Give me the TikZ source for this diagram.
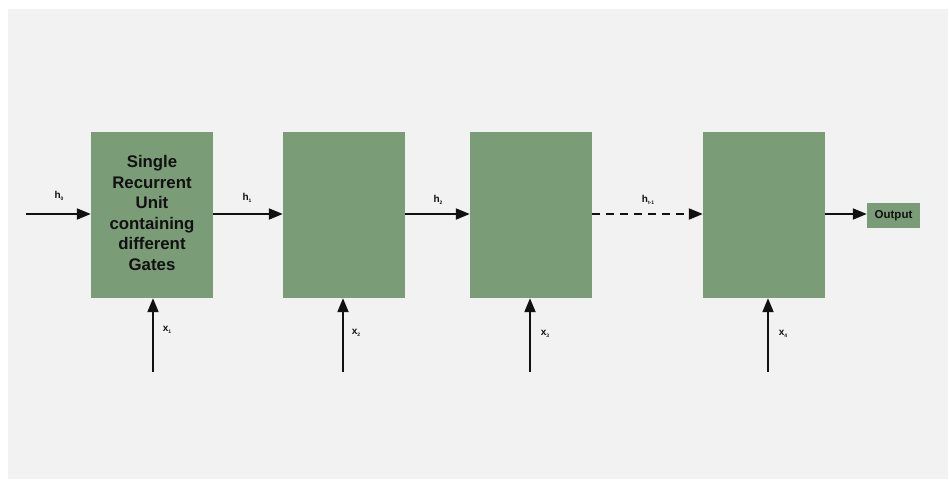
\documentclass[tikz,border=0pt]{standalone}
\usepackage{fontspec}
\setmainfont{Liberation Sans}
\usetikzlibrary{arrows.meta}
\definecolor{cellgreen}{HTML}{7A9C76}
\definecolor{panel}{HTML}{F2F2F2}
\definecolor{ink}{HTML}{111111}
\begin{document}
\begin{tikzpicture}[x=1pt,y=-1pt,
  cell/.style={fill=cellgreen,draw=none,minimum width=122pt,minimum height=166pt,inner sep=0pt},
  flow/.style={draw=ink,line width=2pt,-{Triangle[length=14pt,width=11pt]}},
  lbl/.style={font=\bfseries\fontsize{10}{12}\selectfont,text=ink,inner sep=0pt}]
  % page and grey panel
  \useasboundingbox (0,0) rectangle (949,479);
  \fill[white] (0,0) rectangle (949,479);
  \fill[panel] (8,9) rectangle (948,479);

  % recurrent cells
  \node[cell] (c1) at (152,215) {};
  \node[cell] (c2) at (344,215) {};
  \node[cell] (c3) at (531,215) {};
  \node[cell] (c4) at (764,215) {};
  \node[align=center,text=ink,font=\bfseries\fontsize{16.8}{20.6}\selectfont] (t1) at (152,213)
    {Single\\Recurrent\\Unit\\containing\\different\\Gates};

  % output box
  \node[fill=cellgreen,minimum width=53pt,minimum height=25pt,inner sep=0pt,
        font=\bfseries\fontsize{11.5}{13}\selectfont,text=ink] (out) at (893.5,215.5) {Output};

  % free ends of the connectors
  \coordinate (h0in) at (26,214);
  \coordinate (x1in) at (153,372);
  \coordinate (x2in) at (343,372);
  \coordinate (x3in) at (530,372);
  \coordinate (x4in) at (768,372);

  % hidden-state connectors
  \draw[flow] (h0in) -- (c1.west |- h0in);
  \draw[flow] (c1.east |- h0in) -- (c2.west |- h0in);
  \draw[flow] (c2.east |- h0in) -- (c3.west |- h0in);
  \draw[flow,dash pattern=on 8pt off 6pt] (c3.east |- h0in) -- (c4.west |- h0in);
  \draw[flow] (c4.east |- h0in) -- (out.west |- h0in);

  % input connectors
  \draw[flow] (x1in) -- (x1in |- c1.south);
  \draw[flow] (x2in) -- (x2in |- c2.south);
  \draw[flow] (x3in) -- (x3in |- c3.south);
  \draw[flow] (x4in) -- (x4in |- c4.south);

  % labels
  \node[lbl] (l0) at (59,196) {h\raisebox{-2.5pt}{\fontsize{5}{6}\selectfont 0}};
  \node[lbl] (l1) at (247,198) {h\raisebox{-2.5pt}{\fontsize{5}{6}\selectfont 1}};
  \node[lbl] (l2) at (438,200) {h\raisebox{-2.5pt}{\fontsize{5}{6}\selectfont 2}};
  \node[lbl] (l3) at (648,200) {h\raisebox{-2.5pt}{\fontsize{5}{6}\selectfont t-1}};
  \node[lbl] (lx1) at (167,330) {x\raisebox{-2.5pt}{\fontsize{5}{6}\selectfont 1}};
  \node[lbl] (lx2) at (356,333) {x\raisebox{-2.5pt}{\fontsize{5}{6}\selectfont 2}};
  \node[lbl] (lx3) at (545,334) {x\raisebox{-2.5pt}{\fontsize{5}{6}\selectfont 3}};
  \node[lbl] (lx4) at (783,334) {x\raisebox{-2.5pt}{\fontsize{5}{6}\selectfont 4}};
\end{tikzpicture}
\end{document}
